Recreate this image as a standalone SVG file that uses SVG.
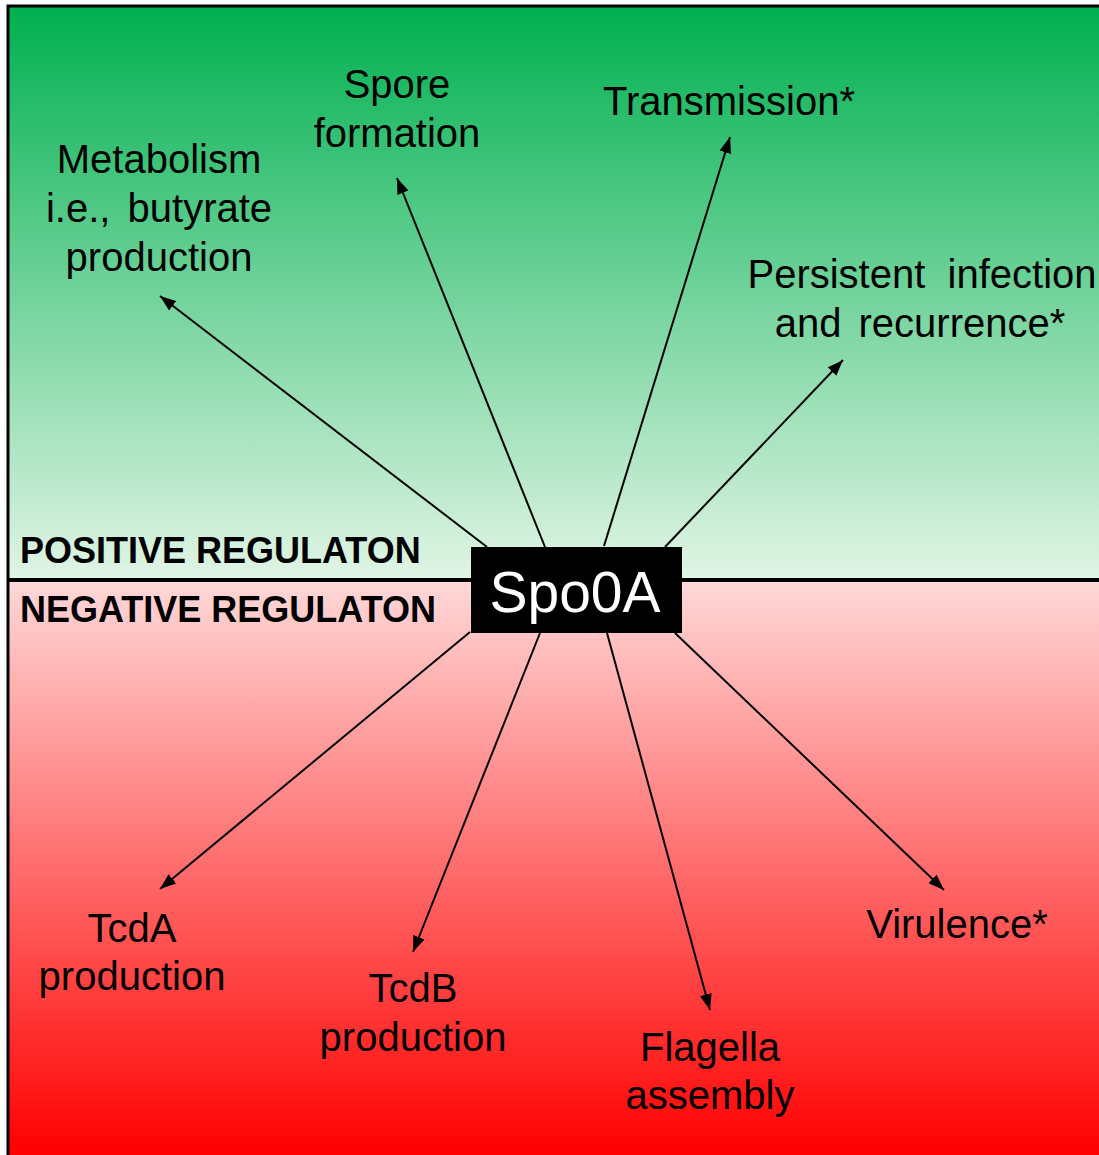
<svg xmlns="http://www.w3.org/2000/svg" width="1099" height="1155" viewBox="0 0 1099 1155">
<defs>
<linearGradient id="gGreen" x1="0" y1="0" x2="0" y2="1">
<stop offset="0" stop-color="#00B050"/>
<stop offset="1" stop-color="#E2F5E6"/>
</linearGradient>
<linearGradient id="gRed" x1="0" y1="0" x2="0" y2="1">
<stop offset="0" stop-color="#FFD8D8"/>
<stop offset="1" stop-color="#FF0000"/>
</linearGradient>
<marker id="ah" viewBox="0 0 16 12" refX="16" refY="6" markerWidth="16" markerHeight="12" markerUnits="userSpaceOnUse" orient="auto">
<path d="M0,0 L16,6 L0,12 z" fill="#000"/>
</marker>
</defs>
<style>
.lbl{font-family:"Liberation Sans",Arial,sans-serif;font-size:40px;fill:#000;text-anchor:middle;white-space:pre}
.ws{word-spacing:6px}
.hdr{font-family:"Liberation Sans",Arial,sans-serif;font-size:36px;font-weight:bold;fill:#000}
.conn line{stroke:#000;stroke-width:2;marker-end:url(#ah)}
</style>
<rect x="0" y="0" width="1099" height="1155" fill="#fff"/>
<rect x="8" y="6" width="1091" height="575" fill="url(#gGreen)"/>
<rect x="8" y="581" width="1091" height="574" fill="url(#gRed)"/>
<path d="M8,1155 L8,6 L1099,6" fill="none" stroke="#000" stroke-width="3"/>
<line x1="8" y1="580" x2="1099" y2="580" stroke="#000" stroke-width="4"/>
<text class="hdr" x="20" y="563">POSITIVE REGULATON</text>
<text class="hdr" x="20" y="622">NEGATIVE REGULATON</text>
<g class="conn">
<line x1="487" y1="547" x2="160" y2="296"/>
<line x1="545" y1="547" x2="397" y2="178"/>
<line x1="604" y1="546" x2="730" y2="137"/>
<line x1="665" y1="547" x2="843" y2="360"/>
<line x1="470" y1="632" x2="160" y2="889"/>
<line x1="540" y1="633" x2="413" y2="952"/>
<line x1="607" y1="633" x2="710" y2="1010"/>
<line x1="675" y1="633" x2="944" y2="890"/>
</g>
<g id="spo0a">
<rect x="471" y="547" width="211" height="86" fill="#000"/>
<text x="575" y="612" font-family="Liberation Sans,Arial,sans-serif" font-size="57" fill="#fff" text-anchor="middle">Spo0A</text>
</g>
<g id="metabolism">
<text class="lbl" x="159" y="173">Metabolism</text>
<text class="lbl ws" x="159" y="222">i.e., butyrate</text>
<text class="lbl" x="159" y="271">production</text>
</g>
<g id="spore">
<text class="lbl" x="397" y="98">Spore</text>
<text class="lbl" x="397" y="147">formation</text>
</g>
<g id="transmission">
<text class="lbl" x="729" y="115">Transmission*</text>
</g>
<g id="persistent">
<text class="lbl" x="922" y="288">Persistent  infection</text>
<text class="lbl ws" x="920" y="337">and recurrence*</text>
</g>
<g id="tcda">
<text class="lbl" x="132" y="942">TcdA</text>
<text class="lbl" x="132" y="990">production</text>
</g>
<g id="tcdb">
<text class="lbl" x="413" y="1002">TcdB</text>
<text class="lbl" x="413" y="1051">production</text>
</g>
<g id="flagella">
<text class="lbl" x="710" y="1061">Flagella</text>
<text class="lbl" x="710" y="1109">assembly</text>
</g>
<g id="virulence">
<text class="lbl" x="957" y="938">Virulence*</text>
</g>
</svg>
